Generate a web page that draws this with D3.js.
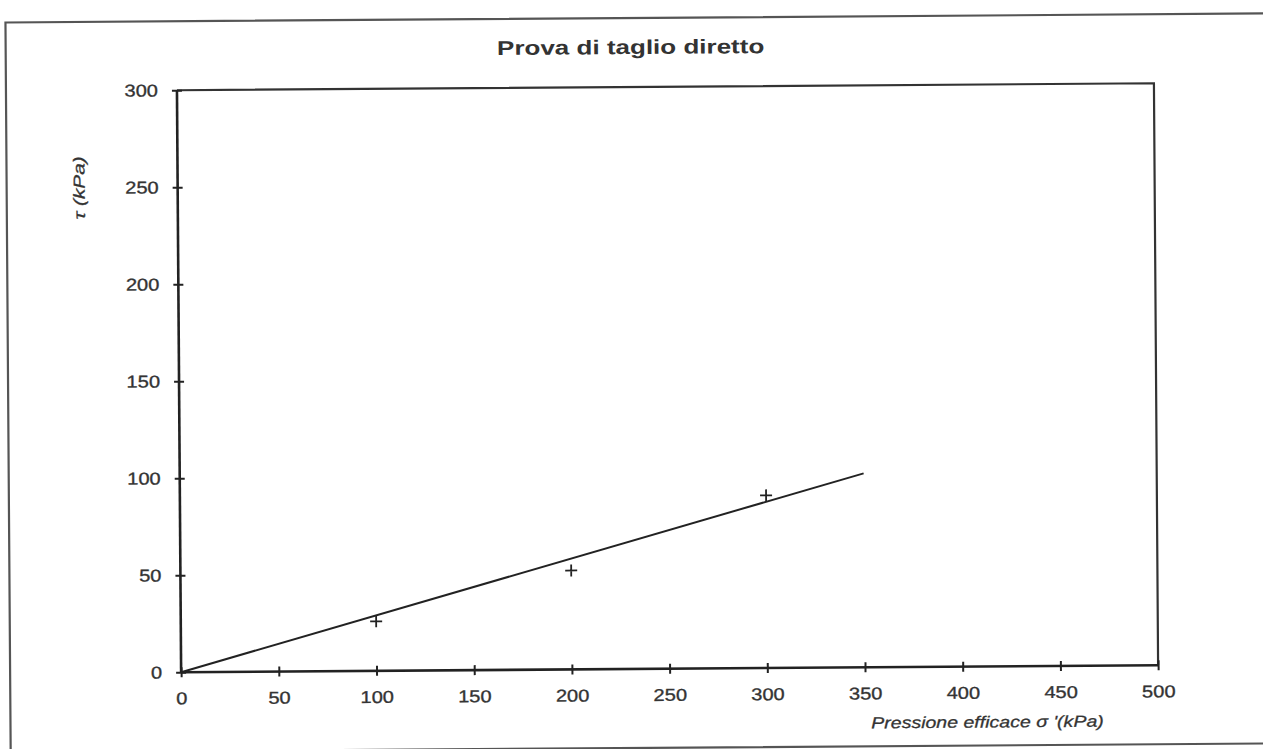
<!DOCTYPE html>
<html><head><meta charset="utf-8">
<script src="https://cdn.jsdelivr.net/npm/d3@7"></script>
<style>
html,body{margin:0;padding:0;background:#fff;}
svg{display:block;}
text{font-family:"Liberation Sans",Arial,sans-serif;fill:#333;}
</style></head>
<body>
<svg id="c" width="1263" height="749"></svg>
<script>
// ---- data ----
const title = "Prova di taglio diretto";
const xLabel = "Pressione efficace σ '(kPa)";
const yLabel = "τ (kPa)";
const xTicks = [0,50,100,150,200,250,300,350,400,450,500];
const yTicks = [0,50,100,150,200,250,300];
const sigma = [100,200,300];          // normal effective stress (kPa)
const tau = [25.5,51,89];             // measured shear stress (kPa)
const fitSigma = [0,350];             // failure envelope
const fitTau = [0,100];

// ---- layout ----
const W=1263,H=749;
const m={left:179,right:1156,top:87,bottom:669};
const svg=d3.select("#c");
const root=svg.append("g").attr("transform",`rotate(-0.41 ${W/2} ${H/2})`);

const x=d3.scaleLinear().domain([0,500]).range([m.left,m.right]);
const y=d3.scaleLinear().domain([0,300]).range([m.bottom,m.top]);

function stretch(sel,k){
  sel.each(function(){const L=this.getComputedTextLength();
    d3.select(this).attr("textLength",L*k).attr("lengthAdjust","spacingAndGlyphs");});
}

// outer frame
root.append("rect").attr("x",8).attr("y",18).attr("width",1280).attr("height",730)
  .attr("fill","none").attr("stroke","#555").attr("stroke-width",2.2);

// plot border top/right
root.append("path").attr("d",`M${m.left},${m.top}H${m.right}V${m.bottom}`)
  .attr("fill","none").attr("stroke","#333").attr("stroke-width",2.2);

// axes
const gx=root.append("g").attr("transform",`translate(0,${m.bottom})`)
  .call(d3.axisBottom(x).tickValues(xTicks).tickSize(5).tickPadding(15).tickFormat(d3.format("d")));
const gy=root.append("g").attr("transform",`translate(${m.left},0)`)
  .call(d3.axisLeft(y).tickValues(yTicks).tickSize(5).tickPadding(14).tickFormat(d3.format("d")));
[gx,gy].forEach(g=>{
  g.select(".domain").attr("stroke","#222").attr("stroke-width",2.6);
  g.selectAll(".tick text").style("font-size","17px").attr("fill","#3a3a3a")
    .attr("stroke","#3a3a3a").attr("stroke-width",0.35);
});
gx.selectAll(".tick line").attr("y1",-5).attr("y2",5).attr("stroke","#222").attr("stroke-width",2);
gy.selectAll(".tick line").attr("x1",-5).attr("x2",5).attr("stroke","#222").attr("stroke-width",2);
gx.select(".domain").attr("d",`M${m.left},0H${m.right}`);
gy.select(".domain").attr("d",`M0,${m.bottom}V${m.top}`);
stretch(gx.selectAll(".tick text"),1.18);
stretch(gy.selectAll(".tick text"),1.18);

// fit line
const pts=fitSigma.map((s,i)=>[s,fitTau[i]]);
root.append("path").attr("d",d3.line().x(d=>x(d[0])).y(d=>y(d[1]))(pts))
  .attr("fill","none").attr("stroke","#222").attr("stroke-width",2);

// data points (plus markers)
root.selectAll(".pt").data(sigma.map((s,i)=>[s,tau[i]])).join("path")
  .attr("class","pt")
  .attr("d",d=>`M${x(d[0])-6},${y(d[1])}h12M${x(d[0])},${y(d[1])-6}v12`)
  .attr("stroke","#222").attr("stroke-width",1.8).attr("fill","none");

// title
const t=root.append("text").attr("x",633).attr("y",54).attr("text-anchor","middle")
  .style("font-size","20px").style("font-weight","bold").attr("fill","#222").text(title);
stretch(t,1.3);

// axis labels
const xl=root.append("text").attr("x",985).attr("y",730).attr("text-anchor","middle")
  .style("font-size","16px").style("font-style","italic")
  .attr("stroke","#3a3a3a").attr("stroke-width",0.3).text(xLabel);
stretch(xl,1.22);
const yl=root.append("text").attr("transform","translate(86,184) rotate(-90)").attr("text-anchor","middle")
  .style("font-size","16px").style("font-style","italic")
  .attr("stroke","#3a3a3a").attr("stroke-width",0.3).text(yLabel);
stretch(yl,1.3);
</script>
</body></html>
